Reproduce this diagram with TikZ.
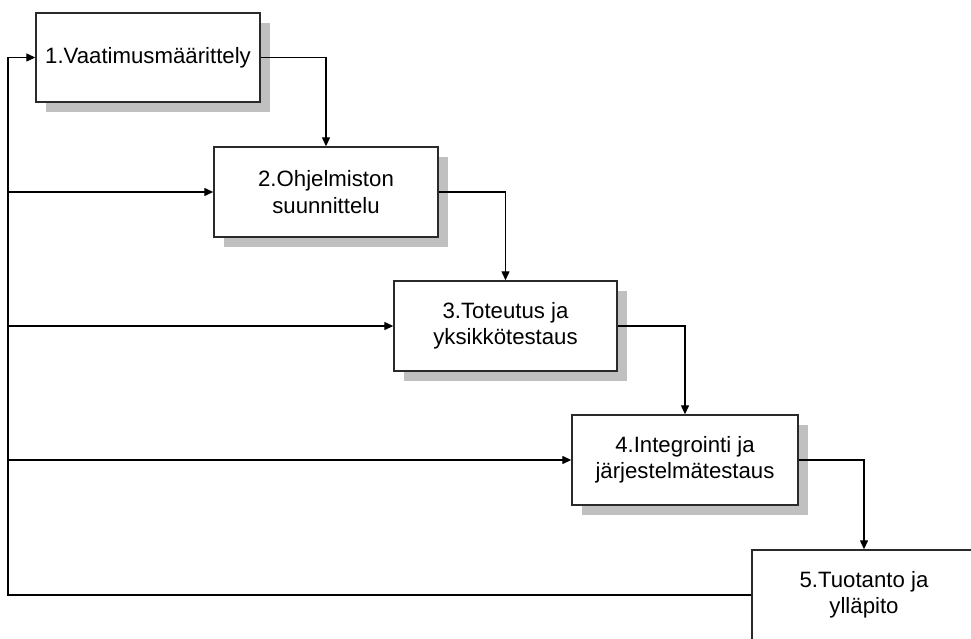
\documentclass[tikz,border=0pt]{standalone}
\usepackage{fontspec}
\setmainfont{Liberation Sans}
\usetikzlibrary{arrows.meta,shadows}
\definecolor{shadowgray}{HTML}{C0C0C0}
\definecolor{edgegray}{HTML}{2A2A2A}
\tikzset{
  phase/.style={draw=edgegray, line width=1.4pt, fill=white, minimum width=224pt, minimum height=90pt,
    inner sep=0pt, align=center, font=\fontsize{22.2}{26.5}\selectfont,
    drop shadow={shadow xshift=10pt, shadow yshift=-10pt, fill=shadowgray, opacity=1}},
  arr/.style={draw=black, line width=1.3pt, -{Triangle[length=9pt,width=8pt]}},
  link/.style={draw=black, line width=1.3pt}
}
\begin{document}
\begin{tikzpicture}[x=1pt,y=-1pt]
\useasboundingbox (0,0) rectangle (971,639);
\node[phase, minimum height=89pt] (b1) at (148,57.5) {1.Vaatimusmäärittely};
\node[phase] (b2) at (326,192) {2.Ohjelmiston\\suunnittelu};
\node[phase, minimum width=223pt] (b3) at (505.5,326) {3.Toteutus ja\\yksikkötestaus};
\node[phase, minimum width=226pt] (b4) at (685,460) {4.Integrointi ja\\järjestelmätestaus};
\node[phase] (b5) at (864,595) {5.Tuotanto ja\\ylläpito};
\coordinate (fb) at (8,57.5);
\draw[arr] (b1.east) -| (b2.north);
\draw[arr] (b2.east) -| (b3.north);
\draw[arr] (b3.east) -| (b4.north);
\draw[arr] (b4.east) -| (b5.north);
\draw[arr] (b5.west) -| (fb) -- (b1.west);
\draw[arr] (fb |- b2.west) -- (b2.west);
\draw[arr] (fb |- b3.west) -- (b3.west);
\draw[arr] (fb |- b4.west) -- (b4.west);
\end{tikzpicture}
\end{document}
